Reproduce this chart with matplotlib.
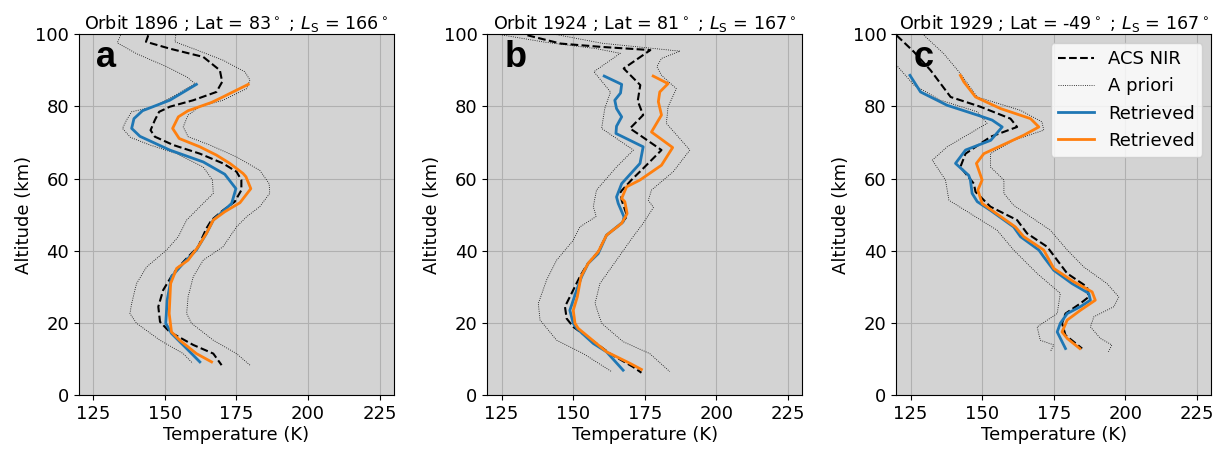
import matplotlib
matplotlib.use("Agg")
import matplotlib.pyplot as plt

# panel titles and letters
titles = [
    r"Orbit 1896 ; Lat = 83$^\circ$ ; $L_\mathrm{S}$ = 166$^\circ$",
    r"Orbit 1924 ; Lat = 81$^\circ$ ; $L_\mathrm{S}$ = 167$^\circ$",
    r"Orbit 1929 ; Lat = -49$^\circ$ ; $L_\mathrm{S}$ = 167$^\circ$",
]
letters = ["a", "b", "c"]

# ---- panel a ----
a_acs_alt = [99.7, 97.9, 96.0, 93.7, 90.0, 86.8, 84.0, 81.7, 79.9, 78.5, 76.2, 73.4, 71.6, 69.3, 66.9, 64.2,
             61.9, 59.6, 56.8, 53.6, 51.2, 48.5, 46.2, 41.1, 37.4, 33.7, 29.1, 24.5, 20.3, 17.5, 13.9, 11.5, 8.3]
a_acs_T = [144.2, 143.4, 151.7, 163.4, 169.2, 170.0, 168.0, 159.9, 151.7, 148.0, 146.5, 145.0, 146.5, 152.9, 162.2, 170.3,
           175.0, 176.7, 176.7, 174.4, 170.3, 166.3, 164.5, 161.6, 157.0, 152.9, 149.4, 147.7, 148.3, 151.7, 159.9, 166.9, 169.8]
a_aplo_alt = [99.7, 97.6, 94.6, 91.0, 88.2, 86.3, 82.8, 79.9, 78.5, 76.2, 73.9, 71.4, 69.3, 66.9, 63.2, 59.6,
              55.9, 52.2, 48.5, 43.9, 40.2, 35.5, 30.9, 25.4, 22.6, 19.9, 15.2, 11.5, 8.8]
a_aplo_T = [134.5, 133.4, 140.1, 150.6, 157.6, 160.5, 153.0, 146.0, 138.4, 136.6, 135.2, 138.0, 144.8, 154.1, 163.4, 166.6,
            166.9, 162.2, 157.6, 154.7, 150.6, 143.6, 140.1, 138.4, 137.8, 140.1, 148.3, 156.4, 159.7]
a_aphi_alt = [99.7, 97.9, 96.0, 92.8, 89.6, 87.3, 84.9, 81.7, 79.9, 77.6, 74.3, 71.6, 69.3, 66.0, 62.3, 58.6,
              55.9, 52.2, 49.4, 46.6, 41.1, 37.4, 32.8, 27.2, 22.6, 19.9, 15.2, 11.5, 8.3]
a_aphi_T = [153.8, 153.5, 159.9, 170.3, 177.9, 179.7, 178.5, 170.3, 162.2, 158.1, 156.4, 158.1, 165.7, 175.0, 183.1, 186.4,
            186.6, 183.1, 178.5, 175.0, 170.3, 163.4, 159.9, 158.1, 157.6, 159.3, 166.9, 175.0, 179.7]
a_ret1_alt = [86.1, 81.7, 78.8, 76.6, 73.9, 71.7, 67.9, 64.6, 61.2, 57.2, 53.1, 48.5, 44.8, 40.2, 36.5, 32.8,
              26.3, 19.9, 17.1, 12.9, 9.2]
a_ret1_T = [161.0, 151.7, 142.2, 139.2, 138.4, 141.3, 151.7, 163.4, 170.9, 174.8, 173.3, 166.9, 164.5, 161.0, 156.4, 152.3,
            150.8, 150.3, 152.3, 157.6, 162.2]
a_ret2_alt = [86.1, 82.2, 81.1, 78.8, 77.1, 73.9, 71.1, 68.8, 66.5, 64.2, 61.4, 60.5, 57.2, 53.3, 50.8, 48.5,
              44.8, 41.1, 37.4, 35.1, 30.9, 22.6, 17.5, 15.2, 11.5, 9.2]
a_ret2_T = [179.1, 169.2, 166.3, 158.1, 154.7, 152.7, 155.0, 162.2, 168.0, 172.7, 177.3, 178.3, 180.0, 176.2, 170.9, 166.9,
            164.5, 161.6, 158.1, 154.1, 152.0, 151.5, 152.3, 155.2, 161.0, 166.3]

# ---- panel b ----
b_acs_alt = [99.7, 97.4, 96.5, 95.6, 90.5, 85.9, 81.5, 77.6, 73.9, 72.0, 67.9, 62.8, 59.6, 56.3, 54.0, 49.6,
             47.6, 44.3, 39.7, 36.0, 32.8, 24.5, 21.2, 18.9, 14.3, 11.5, 7.8, 6.2]
b_acs_T = [134.0, 145.6, 159.5, 176.9, 167.6, 173.4, 172.5, 174.4, 169.8, 173.3, 180.8, 174.4, 170.3, 166.5, 166.9, 168.8,
           166.9, 161.6, 158.7, 154.7, 152.3, 147.1, 147.7, 150.0, 158.1, 162.8, 170.9, 173.8]
b_aplo_alt = [100.0, 97.8, 96.0, 94.7, 89.6, 84.0, 79.4, 73.9, 67.9, 63.2, 56.8, 52.2, 49.5, 46.6, 42.9, 37.4,
              31.9, 25.4, 20.8, 15.2, 11.5, 6.5]
b_aplo_T = [123.6, 140.0, 158.0, 166.4, 157.2, 163.0, 161.0, 159.9, 171.0, 165.1, 158.1, 157.0, 158.0, 152.3, 150.0, 144.2,
            140.7, 137.8, 138.4, 144.2, 153.5, 163.4]
b_aphi_alt = [100.0, 97.5, 95.3, 93.3, 91.0, 88.6, 84.9, 79.9, 75.3, 67.9, 61.9, 56.8, 54.0, 52.0, 47.6, 43.9,
              37.4, 30.9, 25.4, 19.9, 14.8, 11.5, 6.5]
b_aphi_T = [143.4, 160.0, 187.3, 180.8, 179.2, 180.8, 186.0, 183.1, 182.5, 190.7, 184.9, 177.3, 176.2, 178.0, 174.4, 170.9,
            165.1, 159.3, 157.6, 159.9, 167.4, 176.7, 183.7]
b_ret1_alt = [88.4, 86.1, 83.7, 81.7, 79.4, 77.1, 74.5, 72.5, 68.8, 64.2, 58.6, 54.9, 53.1, 49.4, 48.0, 44.3,
              39.2, 36.5, 32.8, 29.1, 23.5, 19.9, 18.5, 14.3, 12.0, 6.9]
b_ret1_T = [160.8, 166.9, 166.5, 164.5, 165.1, 166.9, 165.1, 164.9, 174.4, 173.3, 166.9, 165.1, 165.7, 167.7, 167.4, 161.6,
            158.7, 155.2, 152.9, 151.2, 148.8, 150.0, 151.2, 157.0, 161.6, 167.4]
b_ret2_alt = [88.4, 86.3, 84.0, 81.3, 77.6, 72.9, 68.6, 63.7, 59.6, 57.7, 54.5, 53.6, 50.3, 47.6, 44.3, 39.7,
              36.5, 32.8, 27.2, 23.5, 19.9, 18.5, 12.0, 8.8, 7.1]
b_ret2_T = [177.9, 183.1, 180.2, 179.7, 180.8, 177.3, 184.7, 180.8, 173.3, 168.6, 166.9, 168.0, 168.8, 166.9, 161.6, 158.7,
            155.2, 152.7, 151.4, 150.0, 150.6, 151.7, 161.6, 169.8, 173.8]

# ---- panel c ----
c_acs_alt = [99.7, 95.1, 90.0, 82.6, 79.9, 76.6, 74.3, 71.6, 66.9, 63.2, 58.6, 56.3, 52.2, 48.5, 44.8, 41.1,
             37.4, 33.7, 30.0, 27.2, 25.4, 22.6, 19.9, 16.6, 12.9]
c_acs_T = [120.1, 126.2, 132.0, 139.0, 149.4, 159.9, 162.2, 153.0, 144.2, 142.4, 147.1, 147.7, 152.9, 162.2, 165.7, 172.7,
           176.2, 179.7, 186.6, 187.2, 184.3, 179.1, 177.9, 179.1, 184.9]
c_aplo_alt = [91.5, 85.9, 81.7, 78.5, 75.3, 68.8, 65.1, 59.6, 54.0, 50.3, 45.7, 40.2, 33.7, 28.2, 22.6, 18.9,
              15.2, 13.9, 12.0]
c_aplo_T = [120.0, 126.2, 135.5, 148.3, 151.7, 137.8, 132.6, 137.2, 138.4, 145.9, 155.2, 161.0, 169.2, 177.3, 176.2, 169.2,
            170.3, 175.0, 173.8]
c_aphi_alt = [99.7, 94.6, 89.1, 82.6, 78.9, 75.7, 73.4, 70.6, 66.9, 63.2, 59.6, 55.9, 52.6, 49.4, 45.7, 40.2,
              35.5, 30.9, 27.2, 24.5, 21.7, 18.9, 15.7, 13.9, 12.0]
c_aphi_T = [129.7, 136.6, 142.4, 148.3, 163.4, 170.9, 171.5, 161.0, 152.9, 152.9, 157.6, 157.6, 161.0, 166.9, 173.8, 179.7,
            185.5, 193.6, 197.7, 196.0, 189.0, 187.8, 191.3, 195.3, 194.1]
c_ret1_alt = [88.6, 84.0, 80.3, 77.6, 76.2, 74.3, 70.6, 67.9, 64.2, 60.9, 59.6, 55.9, 53.6, 51.2, 46.6, 43.9,
              40.2, 38.3, 34.6, 30.9, 28.2, 26.3, 24.5, 22.6, 19.9, 17.5, 12.9]
c_ret1_T = [124.8, 128.5, 137.8, 148.3, 153.5, 157.0, 153.0, 144.2, 140.7, 145.3, 145.9, 146.5, 148.3, 152.9, 161.0, 163.4,
            169.8, 171.5, 175.0, 181.4, 187.2, 187.8, 184.3, 179.7, 177.3, 176.2, 179.1]
c_ret2_alt = [88.6, 86.8, 82.6, 79.4, 76.6, 74.3, 72.0, 68.8, 66.9, 64.2, 59.6, 56.8, 53.1, 50.8, 46.6, 43.9,
              40.2, 35.1, 31.4, 28.6, 26.3, 23.5, 20.8, 17.5, 15.7, 12.9]
c_ret2_T = [142.4, 143.6, 147.7, 156.4, 166.9, 169.8, 164.5, 155.8, 150.6, 148.0, 150.0, 148.5, 150.0, 154.1, 161.6, 164.5,
            171.5, 175.0, 182.0, 188.4, 189.5, 184.3, 179.7, 177.9, 179.7, 184.1]

panels = [
    (a_acs_T, a_acs_alt, a_aplo_T, a_aplo_alt, a_aphi_T, a_aphi_alt, a_ret1_T, a_ret1_alt, a_ret2_T, a_ret2_alt),
    (b_acs_T, b_acs_alt, b_aplo_T, b_aplo_alt, b_aphi_T, b_aphi_alt, b_ret1_T, b_ret1_alt, b_ret2_T, b_ret2_alt),
    (c_acs_T, c_acs_alt, c_aplo_T, c_aplo_alt, c_aphi_T, c_aphi_alt, c_ret1_T, c_ret1_alt, c_ret2_T, c_ret2_alt),
]

fig = plt.figure(figsize=(12.26, 4.5), dpi=100)
lefts = [0.0644, 0.3975, 0.7310]

for i, p in enumerate(panels):
    acs_T, acs_z, lo_T, lo_z, hi_T, hi_z, r1_T, r1_z, r2_T, r2_z = p
    ax = fig.add_axes([lefts[i], 0.122, 0.257, 0.802])
    ax.set_facecolor("lightgrey")
    ax.plot(acs_T, acs_z, "k--", lw=1.5, label="ACS NIR")
    ax.plot(lo_T, lo_z, color="k", ls=":", lw=0.6, label="A priori")
    ax.plot(hi_T, hi_z, color="k", ls=":", lw=0.6)
    ax.plot(r1_T, r1_z, color="C0", lw=2, label="Retrieved")
    ax.plot(r2_T, r2_z, color="C1", lw=2, label="Retrieved")
    ax.set_xlim(120, 230)
    ax.set_ylim(0, 100)
    ax.set_xticks([125, 150, 175, 200, 225])
    ax.set_yticks([0, 20, 40, 60, 80, 100])
    ax.grid(True)
    ax.tick_params(labelsize=13)
    ax.set_xlabel("Temperature (K)", fontsize=13, labelpad=2)
    ax.set_ylabel("Altitude (km)", fontsize=13, labelpad=2)
    ax.set_title(titles[i], fontsize=12.6, pad=3)
    ax.text(0.055, 0.91, letters[i], transform=ax.transAxes, fontsize=26,
            fontweight="bold", family="Liberation Sans", va="baseline")
    if i == 2:
        ax.legend(loc="upper right", fontsize=13)

fig.savefig("out.png", dpi=100)
